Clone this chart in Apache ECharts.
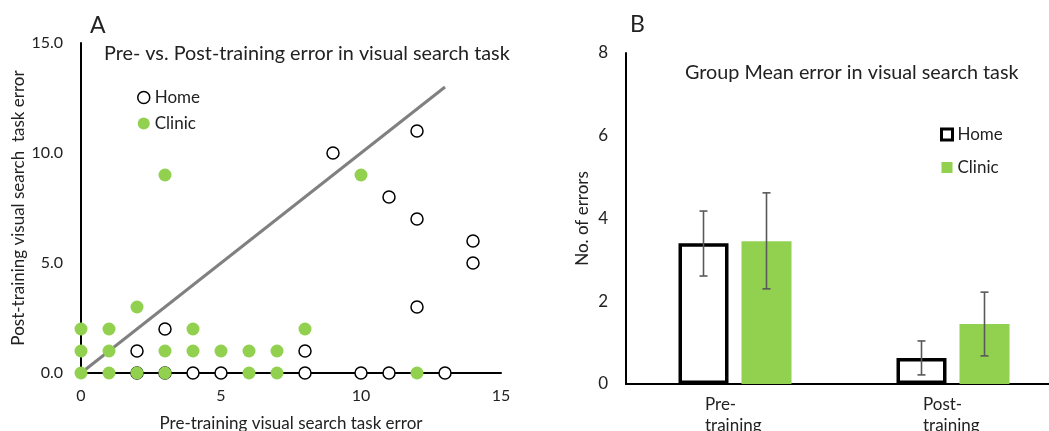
<!DOCTYPE html>
<html>
<head>
<meta charset="utf-8">
<script src="https://cdn.jsdelivr.net/npm/echarts@6/dist/echarts.min.js"></script>
<style>
  html, body { margin: 0; padding: 0; background: #fff; }
  #chart { width: 1049px; height: 431px; }
</style>
</head>
<body>
<div id="chart"></div>
<script>
// panel A: pre vs post training error, [pre, post]
var homePoints = [
    [2, 0], [3, 0], [4, 0], [5, 0], [8, 0], [10, 0], [11, 0], [13, 0],
    [2, 1], [8, 1], [3, 2], [12, 3], [14, 5], [14, 6],
    [12, 7], [11, 8], [9, 10], [12, 11]
]
var clinicPoints = [
    [0, 0], [1, 0], [2, 0], [3, 0], [6, 0], [7, 0], [12, 0],
    [0, 1], [1, 1], [3, 1], [4, 1], [5, 1], [6, 1], [7, 1],
    [0, 2], [1, 2], [4, 2], [8, 2], [2, 3], [3, 9], [10, 9]
]
var diagLine = [[0, 0], [13, 13]]
var xTicksA = [0, 5, 10, 15]
var yTicksA = [0, 5, 10, 15]

// panel B: group means with error bars
var groups     = ['Pre-\ntraining', 'Post-\ntraining']
var homeMean   = [3.4, 0.63]
var clinicMean = [3.45, 1.45]
var homeErr    = [[2.61, 4.18], [0.22, 1.04]]   // [low, high]
var clinicErr  = [[2.3, 4.62], [0.68, 2.22]]
var yTicksB    = [0, 2, 4, 6, 8]

var green = '#92D050'
var font = 'Lato'
var ink = '#222'
var barW = 50, barGapPx = 13

function errorBars (offset) {
    return function (params, api) {
        var x = api.coord([api.value(0), 0])[0] + offset
        var lo = api.coord([api.value(0), api.value(1)])[1]
        var hi = api.coord([api.value(0), api.value(2)])[1]
        var st = { stroke: '#595959', lineWidth: 1.6 }
        return {
            type: 'group',
            children: [
                { type: 'line', shape: { x1: x, y1: lo, x2: x, y2: hi }, style: st },
                { type: 'line', shape: { x1: x - 4, y1: lo, x2: x + 4, y2: lo }, style: st },
                { type: 'line', shape: { x1: x - 4, y1: hi, x2: x + 4, y2: hi }, style: st }
            ]
        }
    }
}

function txt (size) {
    return { fontSize: size, fontWeight: 'normal', fontFamily: font, color: ink }
}

var chart = echarts.init(document.getElementById('chart'))
var option = {
    animation: false,
    textStyle: { fontFamily: font, color: ink },
    title: [
        { text: 'A', left: 90, top: 14, padding: 0, textStyle: txt(23) },
        { text: 'B', left: 630, top: 13, padding: 0, textStyle: txt(23) },
        { text: 'Pre- vs. Post-training error in visual search task', left: 104, top: 44, padding: 0, textStyle: txt(19.8) },
        { text: 'Group Mean error in visual search task', left: 685, top: 63, padding: 0, textStyle: txt(19.8) }
    ],
    legend: [
        {
            orient: 'vertical', left: 137, top: 89, padding: 0, itemWidth: 12, itemHeight: 12, itemGap: 9,
            textStyle: txt(17),
            data: [
                { name: 'Home', icon: 'circle', itemStyle: { color: '#fff', borderColor: '#000', borderWidth: 1.5 } },
                { name: 'Clinic', icon: 'circle', itemStyle: { color: green, borderWidth: 0 } }
            ]
        },
        {
            orient: 'vertical', left: 940, top: 126, padding: 0, itemWidth: 11, itemHeight: 11, itemGap: 16,
            textStyle: txt(17),
            data: [
                { name: 'Home', icon: 'rect', itemStyle: { color: '#fff', borderColor: '#000', borderWidth: 3 } },
                { name: 'Clinic', icon: 'rect', itemStyle: { color: green, borderWidth: 0 } }
            ]
        }
    ],
    grid: [
        { left: 81, top: 43, width: 420, height: 330, outerBoundsMode: 'none', containLabel: false },
        { left: 626, top: 53, width: 436, height: 331, outerBoundsMode: 'none', containLabel: false }
    ],
    xAxis: [
        {
            gridIndex: 0, type: 'value', min: 0, max: 15, interval: 5,
            name: 'Pre-training visual search task error', nameLocation: 'middle', nameGap: 42,
            nameTextStyle: txt(17),
            axisLine: { show: true, lineStyle: { color: '#000', width: 2 } },
            axisTick: { show: false }, splitLine: { show: false },
            axisLabel: { fontSize: 16, color: ink, margin: 15, customValues: xTicksA }
        },
        {
            gridIndex: 1, type: 'category', data: groups,
            axisLine: { show: true, lineStyle: { color: '#000', width: 2 } },
            axisTick: { show: false },
            axisLabel: {
                interval: 0, margin: 10, color: ink, fontSize: 17, lineHeight: 21,
                formatter: function (v) { return v.split('\n').map(function (s) { return '{a|' + s + '}' }).join('\n') },
                rich: { a: { width: 60, align: 'left', fontSize: 17, lineHeight: 21, fontFamily: font, color: ink } }
            }
        }
    ],
    yAxis: [
        {
            gridIndex: 0, type: 'value', min: 0, max: 15, interval: 5,
            name: 'Post-training visual search  task error', nameLocation: 'middle', nameGap: 52,
            nameTextStyle: txt(17),
            axisLine: { show: true, lineStyle: { color: '#000', width: 2 } },
            axisTick: { show: false }, splitLine: { show: false },
            axisLabel: { fontSize: 16, color: ink, margin: 18, customValues: yTicksA,
                         formatter: function (v) { return v.toFixed(1) } }
        },
        {
            gridIndex: 1, type: 'value', min: 0, max: 8, interval: 2,
            name: 'No. of errors', nameLocation: 'middle', nameGap: 35,
            nameTextStyle: txt(17),
            axisLine: { show: true, lineStyle: { color: '#000', width: 2 } },
            axisTick: { show: false }, splitLine: { show: false },
            axisLabel: { fontSize: 17, color: ink, margin: 18, customValues: yTicksB }
        }
    ],
    series: [
        {
            name: 'diag', type: 'line', xAxisIndex: 0, yAxisIndex: 0, data: diagLine,
            symbol: 'none', lineStyle: { color: '#808080', width: 3 }, z: 1
        },
        {
            name: 'Home', type: 'scatter', xAxisIndex: 0, yAxisIndex: 0, data: homePoints,
            symbolSize: 12, itemStyle: { color: '#fff', borderColor: '#000', borderWidth: 1.5, opacity: 1 }, z: 2
        },
        {
            name: 'Clinic', type: 'scatter', xAxisIndex: 0, yAxisIndex: 0, data: clinicPoints,
            symbolSize: 13, itemStyle: { color: green, opacity: 1 }, z: 3
        },
        {
            name: 'Home', type: 'bar', xAxisIndex: 1, yAxisIndex: 1, data: homeMean,
            barWidth: barW, barGap: (barGapPx / barW * 100) + '%',
            itemStyle: { color: '#fff', borderColor: '#000', borderWidth: 3.5 }
        },
        {
            name: 'Clinic', type: 'bar', xAxisIndex: 1, yAxisIndex: 1, data: clinicMean,
            barWidth: barW, itemStyle: { color: green }
        },
        {
            name: 'homeErr', type: 'custom', xAxisIndex: 1, yAxisIndex: 1, z: 5,
            renderItem: errorBars(-(barW + barGapPx) / 2),
            data: homeErr.map(function (e, i) { return [i, e[0], e[1]] })
        },
        {
            name: 'clinicErr', type: 'custom', xAxisIndex: 1, yAxisIndex: 1, z: 5,
            renderItem: errorBars((barW + barGapPx) / 2),
            data: clinicErr.map(function (e, i) { return [i, e[0], e[1]] })
        }
    ]
}
chart.setOption(option)
</script>
</body>
</html>
